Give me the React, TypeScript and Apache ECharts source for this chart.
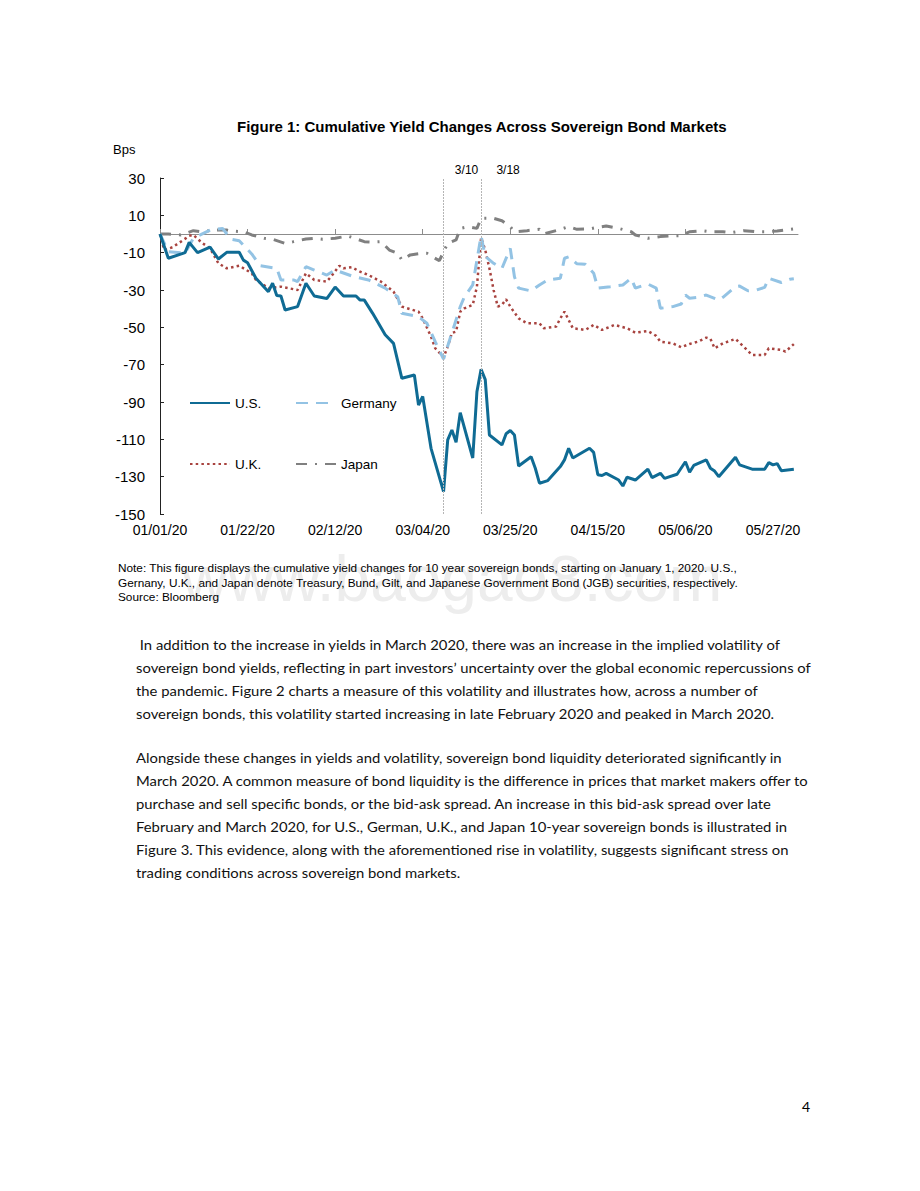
import React, { useEffect, useRef, useMemo } from "react";
import * as echarts from "echarts";

// ---------- DATA (x = days since 01/01/2020, y = cumulative change in bps) ----------
const xTickDays = [0, 21, 42, 63, 84, 105, 126, 147];

const usDays = [0, 2, 6, 7, 9, 12, 14, 16, 19, 20, 21, 23, 26, 27, 28, 29, 30, 33, 35, 37, 40, 42, 44, 47, 48, 49, 51, 54, 56, 58, 61, 62, 63, 65, 68, 69, 70, 71, 72, 75, 76, 77, 78, 79, 82, 83, 84, 85, 86, 89, 90, 91, 93, 96, 97, 98, 99, 103, 104, 105, 106, 107, 110, 111, 112, 114, 117, 118, 120, 121, 124, 126, 127, 128, 131, 132, 133, 134, 138, 139, 142, 145, 146, 147, 148, 149, 152];
const usVals = [0, -13, -10, -4.5, -10, -7, -13.4, -9.8, -9.8, -14, -15.4, -23.7, -30.9, -26.4, -33, -33.2, -40.7, -38.9, -26.4, -33.2, -34.6, -28.4, -33.2, -33.2, -35.4, -35.4, -42.5, -54, -58.6, -77.3, -75.5, -91.6, -87, -114.8, -138, -110.3, -105, -111.6, -95.7, -120, -84.5, -72.5, -78, -107.7, -113, -107, -105.3, -107.7, -124.3, -119.3, -125.5, -133.5, -132.1, -124.6, -121, -114.8, -120, -114.8, -117, -129, -129.4, -128.2, -131.8, -135, -130.3, -131.8, -126, -130.5, -128.2, -130.9, -128.7, -122, -127.6, -124, -121, -125.5, -127, -130, -119.6, -123.7, -126, -126, -122.5, -123.7, -123, -126.8, -126];

const deDays = [0, 2, 6, 8, 12, 15, 17, 19, 22, 24, 28, 29, 32, 33, 35, 37, 40, 42, 46, 50, 54, 57, 58, 62, 64, 66, 68, 70, 72, 73, 75, 76, 77, 78, 80, 82, 84, 85, 86, 89, 91, 93, 96, 97, 98, 100, 102, 104, 105, 108, 111, 112, 113, 114, 117, 119, 120, 123, 125, 126, 127, 129, 131, 134, 135, 138, 139, 141, 143, 145, 146, 149, 151, 152];
const deVals = [0, -9.5, -10.3, -2.3, 2.1, 3, -2.8, -3.6, -10.7, -17, -18.4, -24.6, -24.6, -25.5, -17.5, -19.3, -22, -19.3, -22.5, -24.6, -29, -33.6, -42.5, -44.3, -47.8, -57.7, -67, -53, -39, -33.6, -27.3, -14, -1, -12, -15.7, -18.4, -7.7, -22.9, -29, -30.5, -27.3, -24.6, -23.7, -13, -12.2, -16, -16.2, -21, -29, -28.2, -27.3, -25.5, -23.7, -29, -26.8, -29, -39.8, -38.9, -37.5, -32.7, -34.4, -33.9, -32.7, -35.4, -33.9, -28.2, -27.9, -30.4, -30, -28.6, -23.7, -26, -24.3, -24];

const ukDays = [0, 1, 3, 5, 7, 8, 10, 12, 14, 16, 19, 22, 23, 26, 29, 33, 35, 37, 40, 41, 43, 44, 46, 48, 50, 53, 56, 58, 62, 63, 65, 66, 68, 69, 70, 71, 72, 73, 75, 76, 77, 78, 79, 80, 81, 82, 83, 84, 86, 88, 91, 92, 95, 96, 97, 99, 102, 104, 106, 109, 112, 114, 117, 119, 120, 123, 125, 127, 129, 131, 132, 133, 135, 138, 140, 142, 145, 146, 149, 150, 152];
const ukVals = [0, -8.6, -7.1, -4.1, -1, -0.5, -4.6, -7.7, -15.7, -18.4, -17, -21, -24.6, -29, -28.2, -30, -21, -24.6, -25.5, -22.9, -17, -18.4, -17.8, -20.2, -22, -25.5, -30.9, -38.9, -41.6, -45.2, -55, -61.2, -66, -60.4, -53, -52.3, -41.6, -39.8, -38, -28.2, -2, -8.6, -18.4, -30, -38.9, -38, -35, -38.9, -45.2, -47.8, -47.8, -50.5, -49.6, -45.2, -41.6, -50.5, -51.4, -48.7, -51.4, -48.7, -50.5, -52.9, -52, -54.6, -57.7, -58.6, -60.7, -58.9, -57.7, -55.5, -56.2, -61.2, -58.6, -56.2, -60.4, -64.8, -64.8, -61.2, -62.1, -63, -59];

const jpDays = [0, 2, 5, 8, 10, 13, 16, 17, 20, 22, 25, 27, 30, 32, 35, 37, 39, 42, 45, 46, 49, 51, 53, 55, 57, 58, 60, 63, 64, 65, 67, 68, 69, 71, 72, 74, 76, 77, 80, 82, 84, 85, 88, 91, 92, 95, 98, 100, 103, 105, 107, 110, 113, 114, 117, 120, 122, 125, 127, 130, 132, 135, 137, 140, 143, 145, 148, 150, 153];
const jpVals = [0, 0, -0.5, 1.8, 1.2, 2.1, 2.1, 1.6, 1.2, -0.5, -2.3, -2.8, -5, -4.1, -2.7, -2.3, -2.8, -2.3, -1.1, -1.8, -4.1, -4.3, -4.1, -8.6, -10.3, -13.9, -11.2, -10.3, -10.3, -11.8, -14.3, -9.5, -5, -3.2, 3, 3.9, 3, 8.4, 8.4, 7.1, 3.9, 1.2, 1.8, 2.5, 0, 1.8, 3.9, 2.5, 2.7, 3.6, 4.3, 3, 1.2, -0.5, -2.3, -1.4, -1.1, -0.9, 1.2, 1.8, 1.2, 1.2, 0.7, 1.8, 1.2, 1.2, 1.6, 2.1, 3];

const eventDays = [68, 77];
const eventLabels = ["3/10", "3/18"];

const seriesNames = ["U.S.", "Germany", "U.K.", "Japan"];

const titleText = "Figure 1: Cumulative Yield Changes Across Sovereign Bond Markets";
const noteLines = [
  "Note: This figure displays the cumulative yield changes for 10 year sovereign bonds, starting on January 1, 2020. U.S.,",
  "Gernany, U.K., and Japan denote Treasury, Bund, Gilt, and Japanese Government Bond (JGB) securities, respectively.",
  "Source: Bloomberg",
];
const para1 = [
  " In addition to the increase in yields in March 2020, there was an increase in the implied volatility of",
  "sovereign bond yields, reflecting in part investors\u2019 uncertainty over the global economic repercussions of",
  "the pandemic. Figure 2 charts a measure of this volatility and illustrates how, across a number of",
  "sovereign bonds, this volatility started increasing in late February 2020 and peaked in March 2020.",
];
const para2 = [
  "Alongside these changes in yields and volatility, sovereign bond liquidity deteriorated significantly in",
  "March 2020. A common measure of bond liquidity is the difference in prices that market makers offer to",
  "purchase and sell specific bonds, or the bid-ask spread. An increase in this bid-ask spread over late",
  "February and March 2020, for U.S., German, U.K., and Japan 10-year sovereign bonds is illustrated in",
  "Figure 3. This evidence, along with the aforementioned rise in volatility, suggests significant stress on",
  "trading conditions across sovereign bond markets.",
];

// ---------- helpers ----------
const FONT = "'Liberation Sans', Arial, sans-serif";
const pair = (xs: number[], ys: number[]) => xs.map((x, i) => [x, ys[i]]);
const dayLabel = (v: number) => {
  const d = new Date(Date.UTC(2020, 0, 1) + Math.round(v) * 86400000);
  const mm = String(d.getUTCMonth() + 1).padStart(2, "0");
  const dd = String(d.getUTCDate()).padStart(2, "0");
  const yy = String(d.getUTCFullYear()).slice(2);
  return `${mm}/${dd}/${yy}`;
};

function Chart() {
  const ref = useRef<HTMLDivElement>(null);
  useEffect(() => {
    if (!ref.current) return;
    const chart = echarts.init(ref.current, null, { renderer: "svg" });
    const legendBase = {
      itemWidth: 40,
      itemHeight: 14,
      itemGap: 10,
      selectedMode: false,
      padding: 0,
      itemStyle: { opacity: 0 },
      textStyle: { fontSize: 13.5, color: "#000", fontFamily: FONT },
    };
    chart.setOption({
      animation: false,
      backgroundColor: "transparent",
      title: [
        {
          text: titleText,
          left: 237,
          top: 119,
          padding: 0,
          textStyle: { fontSize: 15, fontWeight: "bold", color: "#000", fontFamily: FONT },
        },
        {
          text: "Bps",
          left: 113,
          top: 143,
          padding: 0,
          textStyle: { fontSize: 13, fontWeight: "normal", color: "#000", fontFamily: FONT },
        },
      ],
      legend: [
        { ...legendBase, data: [seriesNames[0]], left: 189, top: 396 },
        { ...legendBase, data: [seriesNames[1]], left: 295, top: 396 },
        { ...legendBase, data: [seriesNames[2]], left: 189, top: 457 },
        { ...legendBase, data: [seriesNames[3]], left: 295, top: 457 },
      ],
      grid: { left: 160, top: 178, width: 638, height: 336, containLabel: false },
      xAxis: [
        {
          type: "value",
          min: 0,
          max: 153,
          position: "bottom",
          axisLine: { show: false, onZero: false },
          axisTick: { show: false },
          splitLine: { show: false },
          axisLabel: {
            customValues: xTickDays,
            formatter: (v: number) => dayLabel(v),
            fontSize: 14,
            color: "#000",
            fontFamily: FONT,
            margin: 9,
          },
        },
        {
          type: "value",
          min: 0,
          max: 153,
          axisLine: { show: true, onZero: true, lineStyle: { color: "#8c8c8c", width: 1 } },
          axisTick: { show: true, customValues: xTickDays, length: 5, lineStyle: { color: "#8c8c8c" } },
          axisLabel: { show: false },
          splitLine: { show: false },
        },
      ],
      yAxis: {
        type: "value",
        min: -150,
        max: 30,
        interval: 20,
        axisLine: { show: true, lineStyle: { color: "#222", width: 1 } },
        axisTick: { show: true, inside: true, length: 4, lineStyle: { color: "#222" } },
        splitLine: { show: false },
        axisLabel: { fontSize: 15, color: "#000", fontFamily: FONT, margin: 15 },
      },
      series: [
        {
          name: seriesNames[3],
          type: "line",
          data: pair(jpDays, jpVals),
          symbol: "none",
          lineStyle: { color: "#808080", width: 3, type: [11, 8, 2, 8] },
          itemStyle: { color: "#808080" },
          z: 2,
        },
        {
          name: seriesNames[2],
          type: "line",
          data: pair(ukDays, ukVals),
          symbol: "none",
          lineStyle: { color: "#A8433F", width: 2.5, type: [2.5, 3.2] },
          itemStyle: { color: "#A8433F" },
          z: 3,
        },
        {
          name: seriesNames[1],
          type: "line",
          data: pair(deDays, deVals),
          symbol: "none",
          lineStyle: { color: "#93C3E4", width: 3, type: [12, 8] },
          itemStyle: { color: "#93C3E4" },
          z: 3,
        },
        {
          name: seriesNames[0],
          type: "line",
          data: pair(usDays, usVals),
          symbol: "none",
          lineStyle: { color: "#0F6B94", width: 3, type: "solid" },
          itemStyle: { color: "#0F6B94" },
          z: 4,
          markLine: {
            silent: true,
            symbol: ["none", "none"],
            lineStyle: { color: "#b5b5b5", width: 1, type: [2, 1] },
            label: {
              show: true,
              position: "end",
              distance: 2,
              color: "#000",
              fontSize: 12,
              fontFamily: FONT,
            },
            data: eventDays.map((d, i) => ({
              xAxis: d,
              label: { formatter: eventLabels[i], padding: [0, 0, 0, i === 0 ? 46 : 54] },
            })),
          },
        },
      ],
    });
    return () => chart.dispose();
  }, []);
  return <div ref={ref} style={{ position: "absolute", left: 0, top: 0, width: 920, height: 620 }} />;
}

function BodyText() {
  const scale = useMemo(() => {
    try {
      const c = document.createElement("canvas");
      const ctx = c.getContext("2d");
      if (!ctx) return 1;
      ctx.font = "14px Lato";
      const w = ctx.measureText(para1[1]).width;
      return w > 0 ? 676 / w : 1;
    } catch (e) {
      return 1;
    }
  }, []);
  const lineStyle = (top: number): React.CSSProperties => ({
    position: "absolute",
    left: 136,
    top,
    height: 23,
    lineHeight: "23px",
    whiteSpace: "pre",
    fontFamily: "Lato, 'Open Sans', sans-serif",
    fontSize: 14,
    color: "#111",
    transform: `scaleX(${scale})`,
    transformOrigin: "0 50%",
  });
  return (
    <>
      {para1.map((t, i) => (
        <div key={"a" + i} style={lineStyle(644 - 11.5 + i * 23)}>{t}</div>
      ))}
      {para2.map((t, i) => (
        <div key={"b" + i} style={lineStyle(757 - 11.5 + i * 23)}>{t}</div>
      ))}
    </>
  );
}

export default function App() {
  return (
    <div style={{ position: "absolute", left: 0, top: 0, width: 920, height: 1191, background: "#fff", overflow: "hidden" }}>
      <div
        style={{
          position: "absolute",
          left: 0,
          width: 920,
          top: 542,
          textAlign: "center",
          fontFamily: FONT,
          fontSize: 64,
          color: "#ededed",
          transform: "translateX(-8px)",
        }}
      >
        www.baogao8.com
      </div>
      <Chart />
      {noteLines.map((t, i) => (
        <div
          key={"n" + i}
          style={{
            position: "absolute",
            left: 118,
            top: 561 + i * 14.5,
            lineHeight: "14.5px",
            fontSize: 11.8,
            fontFamily: FONT,
            color: "#000",
            whiteSpace: "pre",
          }}
        >
          {t}
        </div>
      ))}
      <BodyText />
      <div
        style={{
          position: "absolute",
          left: 802,
          top: 1096,
          lineHeight: "22px",
          fontSize: 14,
          fontFamily: "Lato, sans-serif",
          color: "#000",
        }}
      >
        4
      </div>
    </div>
  );
}
